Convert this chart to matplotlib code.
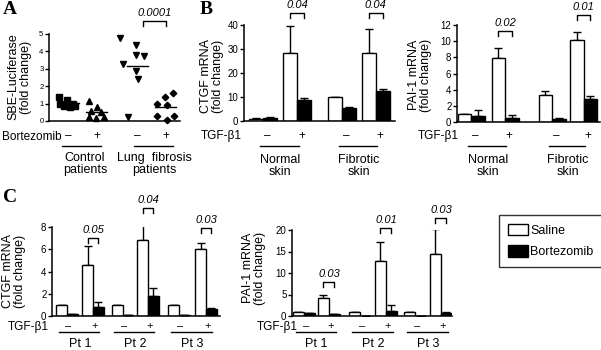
import numpy as np
import matplotlib.pyplot as plt
from matplotlib.patches import Patch
from matplotlib.transforms import blended_transform_factory

plt.rcParams['font.family'] = ['Liberation Sans', 'DejaVu Sans']

W, H = 601, 350

# ---- panel A: SBE-luciferase, individual patients
a_ctrl_minus = [1.37, 1.2, 0.95, 0.87, 0.83, 0.87, 1.0]
a_ctrl_minus_dx = [-0.35, -0.06, 0.17, -0.15, 0.06, 0.26, -0.3]
a_ctrl_plus = [1.17, 0.79, 0.58, 0.5, 0.25, 0.2, 0.25]
a_ctrl_plus_dx = [-0.28, 0.01, -0.22, 0.17, -0.28, -0.03, 0.29]
a_lung_minus = [4.75, 4.35, 3.8, 3.75, 3.3, 2.9, 2.4, 0.25]
a_lung_minus_dx = [-0.68, -0.06, -0.06, 0.26, -0.56, -0.06, 0.0, -0.38]
a_lung_plus = [1.63, 1.4, 1.0, 0.9, 0.3, 0.3, 0.05]
a_lung_plus_dx = [0.26, -0.03, -0.32, 0.06, 0.32, -0.32, 0.03]

# ---- panel B: skin fibroblasts (normal -, normal +, fibrotic -, fibrotic +)
b_ctgf_saline = [1.0, 28.2, 9.9, 28.2]
b_ctgf_saline_err = [0.1, 11.5, 0.2, 10.1]
b_ctgf_bort = [1.4, 8.75, 5.6, 12.5]
b_ctgf_bort_err = [0.1, 0.7, 0.4, 0.7]
b_pai_saline = [1.0, 7.9, 3.35, 10.1]
b_pai_saline_err = [0.05, 1.2, 0.5, 1.0]
b_pai_bort = [0.75, 0.55, 0.4, 2.9]
b_pai_bort_err = [0.7, 0.3, 0.1, 0.35]

# ---- panel C: patients (Pt1 -, Pt1 +, Pt2 -, Pt2 +, Pt3 -, Pt3 +)
c_ctgf_saline = [1.0, 4.6, 1.0, 6.85, 1.0, 6.05]
c_ctgf_saline_err = [0, 1.65, 0, 1.8, 0, 0.5]
c_ctgf_bort = [0.15, 0.84, 0.05, 1.83, 0.05, 0.63]
c_ctgf_bort_err = [0.05, 0.4, 0, 0.65, 0, 0.1]
c_pai_saline = [1.0, 4.1, 1.0, 12.7, 1.0, 14.5]
c_pai_saline_err = [0, 0.8, 0, 4.4, 0, 5.7]
c_pai_bort = [0.6, 0.45, 0.1, 1.2, 0.05, 0.8]
c_pai_bort_err = [0.1, 0.05, 0, 1.4, 0, 0.2]

pvals_a = ['0.0001']
pvals_b_ctgf = ['0.04', '0.04']
pvals_b_pai = ['0.02', '0.01']
pvals_c_ctgf = ['0.05', '0.04', '0.03']
pvals_c_pai = ['0.03', '0.01', '0.03']

fig = plt.figure(figsize=(W / 100, H / 100), dpi=100)


def axes_px(left, top, right, bottom):
    return fig.add_axes([left / W, 1 - bottom / H, (right - left) / W, (bottom - top) / H])


def style(ax, ticks, fs=7):
    for s in ['top', 'right']:
        ax.spines[s].set_visible(False)
    for s in ['left', 'bottom']:
        ax.spines[s].set_linewidth(1.1)
    ax.set_yticks(ticks)
    ax.set_xticks([])
    ax.tick_params(axis='y', direction='out', length=3, width=1, labelsize=fs, pad=1)
    ax.set_ylim(0, ticks[-1])


def px_per_unit(ax):
    y0, y1 = ax.get_ylim()
    return ax.get_position().height * H / (y1 - y0)


def bracket(ax, x1, x2, y, label, leg_px=5, gap_px=8):
    d = leg_px / px_per_unit(ax)
    ax.plot([x1, x1, x2, x2], [y - d, y, y, y - d], color='black', lw=1, clip_on=False)
    ax.text((x1 + x2) / 2, y + gap_px / px_per_unit(ax), label, ha='center', va='center',
            fontsize=8, style='italic')


def below(ax, x, ypx, s, **kw):
    tr = blended_transform_factory(ax.transData, fig.transFigure)
    ax.text(x, 1 - ypx / H, s, transform=tr, clip_on=False, **kw)


def underline(ax, x1, x2, ypx):
    tr = blended_transform_factory(ax.transData, fig.transFigure)
    ax.plot([x1, x2], [1 - ypx / H] * 2, transform=tr, color='black', lw=1, clip_on=False)


def bars(ax, pos, sal, sal_err, bort, bort_err):
    pos = np.array(pos)
    ax.bar(pos - 0.5, sal, width=1, color='white', edgecolor='black', lw=1, zorder=2)
    ax.bar(pos + 0.5, bort, width=1, color='black', edgecolor='black', lw=1, zorder=2)
    ax.errorbar(pos - 0.5, sal, yerr=[np.zeros(len(sal)), sal_err], fmt='none',
                ecolor='black', elinewidth=1, capsize=3, capthick=1, zorder=1)
    ax.errorbar(pos + 0.5, bort, yerr=[np.zeros(len(bort)), bort_err], fmt='none',
                ecolor='black', elinewidth=1, capsize=3, capthick=1, zorder=1)


def ylabel(x_px, y_px, text):
    fig.text(x_px / W, 1 - y_px / H, text, rotation=90, ha='center', va='center',
             fontsize=9, linespacing=1.05)


def letter(x_px, y_px, s):
    fig.text(x_px / W, 1 - y_px / H, s, ha='left', va='center', fontsize=14,
             fontweight='bold', family='Liberation Serif')


# ================= A =================
axA = axes_px(49, 34, 180, 121)
style(axA, [0, 1, 2, 3, 4, 5], fs=5.5)
pos_a = [1, 2.08, 3.65, 4.73]
axA.set_xlim(0.27, 5.27)
groups_a = [(a_ctrl_minus, a_ctrl_minus_dx, 's'), (a_ctrl_plus, a_ctrl_plus_dx, '^'),
            (a_lung_minus, a_lung_minus_dx, 'v'), (a_lung_plus, a_lung_plus_dx, 'D')]
for p, (vals, dx, m) in zip(pos_a, groups_a):
    axA.plot(p + np.array(dx), vals, m, color='black', ms=4 if m != 'D' else 3.3,
             clip_on=False, zorder=3)
    mu = np.mean(vals)
    axA.plot([p - 0.4, p + 0.4], [mu, mu], color='black', lw=1)
bracket(axA, pos_a[2] + 0.2, pos_a[3], 5.77, pvals_a[0])
below(axA, pos_a[0] - 0.25, 137, 'Bortezomib', ha='right', va='center', fontsize=8.5)
for p, s in zip(pos_a, ['–', '+', '–', '+']):
    below(axA, p, 136, s, ha='center', va='center', fontsize=8.5)
underline(axA, pos_a[0] - 0.25, pos_a[1] + 0.17, 146)
underline(axA, pos_a[2] - 0.15, pos_a[3] + 0.27, 146)
below(axA, (pos_a[0] + pos_a[1]) / 2 + 0.1, 164, 'Control\npatients', ha='center',
      va='center', fontsize=9, linespacing=1.1)
below(axA, (pos_a[2] + pos_a[3]) / 2 + 0.1, 164, 'Lung  fibrosis\npatients', ha='center',
      va='center', fontsize=9, linespacing=1.1)
ylabel(20, 77, 'SBE-Luciferase\n(fold change)')
letter(3, 10, 'A')


def skin_panel(ax, pos, sal, sal_err, bort, bort_err, pv, br_y, lab_right):
    bars(ax, pos, sal, sal_err, bort, bort_err)
    for k, i in enumerate([1, 3]):
        bracket(ax, pos[i] - 0.5, pos[i] + 0.5, br_y[k], pv[k])
    below(ax, lab_right, 136, 'TGF-β1', ha='right', va='center', fontsize=8.5)
    for p, s in zip(pos, ['–', '+', '–', '+']):
        below(ax, p + 0.3, 136, s, ha='center', va='center', fontsize=8.5)
    for a, b, name in [(0, 1, 'Normal\nskin'), (2, 3, 'Fibrotic\nskin')]:
        underline(ax, pos[a] - 0.2, pos[b] + 0.1, 146)
        below(ax, (pos[a] + pos[b]) / 2, 166, name, ha='center', va='center',
              fontsize=9, linespacing=1.1)


# ================= B CTGF =================
axB1 = axes_px(244, 25, 395, 121)
style(axB1, [0, 10, 20, 30, 40])
pos_b1 = [0, 2.45, 5.65, 8.05]
axB1.set_xlim(-1.36, 9.43)
skin_panel(axB1, pos_b1, b_ctgf_saline, b_ctgf_saline_err, b_ctgf_bort, b_ctgf_bort_err,
           pvals_b_ctgf, [45.2, 45.2], -1.5)
ylabel(212, 76, 'CTGF mRNA\n(fold change)')
letter(200, 10, 'B')

# ================= B PAI-1 =================
axB2 = axes_px(457, 25, 600, 122)
style(axB2, [0, 2, 4, 6, 8, 10, 12])
pos_b2 = [0, 2.52, 6.0, 8.33]
axB2.set_xlim(-1.04, 9.55)
skin_panel(axB2, pos_b2, b_pai_saline, b_pai_saline_err, b_pai_bort, b_pai_bort_err,
           pvals_b_pai, [11.3, 13.2], -0.9)
ylabel(420, 75, 'PAI-1 mRNA\n(fold change)')


def patient_panel(ax, pos, sal, sal_err, bort, bort_err, pv, br_y, lab_right):
    bars(ax, pos, sal, sal_err, bort, bort_err)
    for k, i in enumerate([1, 3, 5]):
        bracket(ax, pos[i] - 0.5, pos[i] + 0.5, br_y[k], pv[k])
    below(ax, lab_right, 327, 'TGF-β1', ha='right', va='center', fontsize=8.5)
    for p, s in zip(pos, ['–', '+'] * 3):
        below(ax, p + 0.15, 326, s, ha='center', va='center', fontsize=8)
    for k, name in enumerate(['Pt 1', 'Pt 2', 'Pt 3']):
        a, b = pos[2 * k], pos[2 * k + 1]
        underline(ax, a - 0.75, b + 0.6, 332)
        below(ax, (a + b) / 2, 344, name, ha='center', va='center', fontsize=9)


# ================= C CTGF =================
axC1 = axes_px(52, 227, 220, 316)
style(axC1, [0, 2, 4, 6, 8])
pos_c1 = [0, 2.43, 5.19, 7.57, 10.47, 12.99]
axC1.set_xlim(-1.4, 14.3)
patient_panel(axC1, pos_c1, c_ctgf_saline, c_ctgf_saline_err, c_ctgf_bort, c_ctgf_bort_err,
              pvals_c_ctgf, [7.0, 9.7, 7.9], -1.7)
ylabel(14, 271, 'CTGF mRNA\n(fold change)')
letter(3, 197, 'C')

# ================= C PAI-1 =================
axC2 = axes_px(292, 230, 452, 316)
style(axC2, [0, 5, 10, 15, 20])
pos_c2 = [0, 2.27, 5.09, 7.45, 10.1, 12.45]
axC2.set_xlim(-1.09, 13.45)
patient_panel(axC2, pos_c2, c_pai_saline, c_pai_saline_err, c_pai_bort, c_pai_bort_err,
              pvals_c_pai, [8.0, 20.5, 22.9], -0.6)
ylabel(254, 268, 'PAI-1 mRNA\n(fold change)')

# legend
handles = [Patch(facecolor='white', edgecolor='black', lw=1, label='Saline'),
           Patch(facecolor='black', edgecolor='black', lw=1, label='Bortezomib')]
leg = fig.legend(handles=handles, loc='upper left', bbox_to_anchor=(499 / W, 1 - 215 / H),
                 fontsize=9, frameon=True, fancybox=False, edgecolor='black',
                 handlelength=1.6, handleheight=1.0, handletextpad=0.2,
                 borderpad=0.7, labelspacing=0.7, borderaxespad=0)
leg.get_frame().set_linewidth(1)

fig.savefig('out.png', dpi=100)
